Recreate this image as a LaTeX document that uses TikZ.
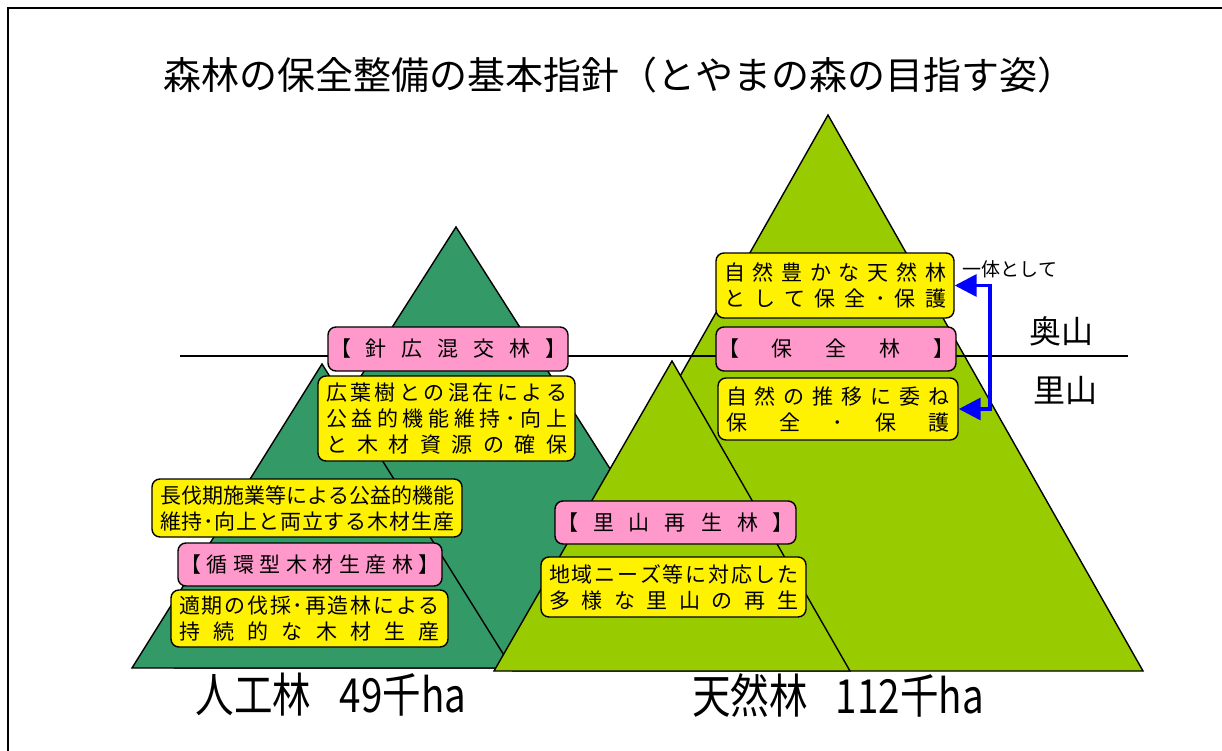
\documentclass[tikz,border=0pt]{standalone}
\usepackage{fontspec}
\setmainfont{Noto Sans CJK JP}
\newfontfamily\tallfont[FakeStretch=0.82]{Noto Sans CJK JP}
\usetikzlibrary{arrows.meta}

\makeatletter
\newcommand\spreadline[2]{\makebox[#1]{\spread@chars#2\relax}}
\def\spread@chars#1{\ifx\relax#1\unskip\else#1\hfill\expandafter\spread@chars\fi}
\makeatother

\definecolor{planted}{HTML}{339966}
\definecolor{natural}{HTML}{99CC00}
\definecolor{tagpink}{HTML}{FF99CC}

\begin{document}
\begin{tikzpicture}[x=1pt,y=-1pt]
\tikzstyle{hill} = [draw=black, line width=1.4pt]
\tikzstyle{note} = [rectangle, draw=black, line width=1.4pt, fill=yellow,
rounded corners=8pt, inner sep=0pt, align=center, font=\fontsize{21}{26}\selectfont]
\tikzstyle{tag} = [note, fill=tagpink]
\tikzstyle{zone} = [font=\fontsize{32}{32}\selectfont]
\tikzstyle{total} = [font=\tallfont\fontsize{47}{47}\selectfont]
\tikzstyle{link} = [draw=blue, line width=3.5pt, >={Triangle[length=22pt,width=22pt]}, <->]

\useasboundingbox (0,0) rectangle (1222,751);
\draw[line width=2pt] (7.5,751) -- (7.5,8.5) -- (1222,8.5);

\node[font=\fontsize{38}{38}\selectfont] (title) at (619,75)
{森林の保全整備の基本指針（とやまの森の目指す姿）};

% mountains
\filldraw[hill, fill=planted] (456,227) -- (737,668) -- (175,668) -- cycle;
\filldraw[hill, fill=planted] (322,364) -- (512,668) -- (132,668) -- cycle;
\filldraw[hill, fill=natural] (828,115) -- (1143,671) -- (513,671) -- cycle;
\filldraw[hill, fill=natural] (672,361) -- (850,671) -- (494,671) -- cycle;

% okuyama / satoyama
\draw[line width=1.3pt] (180,356) -- (1128,356);
\node[zone] (oku) at (1061,331) {奥山};
\node[zone] (sato) at (1065,390) {里山};

% planted forest
\node[tag, minimum width=240pt, minimum height=44pt] (mixed) at (448,349)
{\spreadline{236pt}{【針広混交林】}};
\node[note, minimum width=257pt, minimum height=85pt] (mixednote) at (446.5,418.5)
{\spreadline{241pt}{広葉樹との混在による}\\
\spreadline{241pt}{公益的機能維持･向上}\\
\spreadline{241pt}{と木材資源の確保}};
\node[note, minimum width=310pt, minimum height=58pt] (longnote) at (307,508)
{\spreadline{294pt}{長伐期施業等による公益的機能}\\
\spreadline{294pt}{維持･向上と両立する木材生産}};
\node[tag, minimum width=264pt, minimum height=43pt] (cycle) at (310,564.5)
{\spreadline{260pt}{【循環型木材生産林】}};
\node[note, minimum width=277pt, minimum height=57pt] (cyclenote) at (309.5,618.5)
{\spreadline{261pt}{適期の伐採･再造林による}\\
\spreadline{261pt}{持続的な木材生産}};

% natural forest
\node[tag, minimum width=241pt, minimum height=43pt] (satotag) at (675.5,522.5)
{\spreadline{237pt}{【里山再生林】}};
\node[note, minimum width=265pt, minimum height=60pt] (satonote) at (673.5,587)
{\spreadline{249pt}{地域ニーズ等に対応した}\\
\spreadline{249pt}{多様な里山の再生}};
\node[note, minimum width=238pt, minimum height=65pt] (wildnote) at (835,285.5)
{\spreadline{222pt}{自然豊かな天然林}\\
\spreadline{222pt}{として保全･保護}};
\node[tag, minimum width=240pt, minimum height=44pt] (keep) at (836,349)
{\spreadline{236pt}{【保全林】}};
\node[note, minimum width=240pt, minimum height=62pt] (keepnote) at (838,409)
{\spreadline{224pt}{自然の推移に委ね}\\
\spreadline{224pt}{保全･保護}};

\coordinate (bend) at (990,287);
\draw[link] (wildnote.east) -- (wildnote.east -| bend) -- (keepnote.east -| bend) -- (keepnote.east);
\node[font=\fontsize{19}{19}\selectfont] (together) at (1010,269) {一体として};

% totals
\node[total] (plantedtotal) at (331,695) {人工林\hspace{0.6em}49千ha};
\node[total] (naturaltotal) at (838,695) {天然林\hspace{0.6em}112千ha};
\end{tikzpicture}
\end{document}
